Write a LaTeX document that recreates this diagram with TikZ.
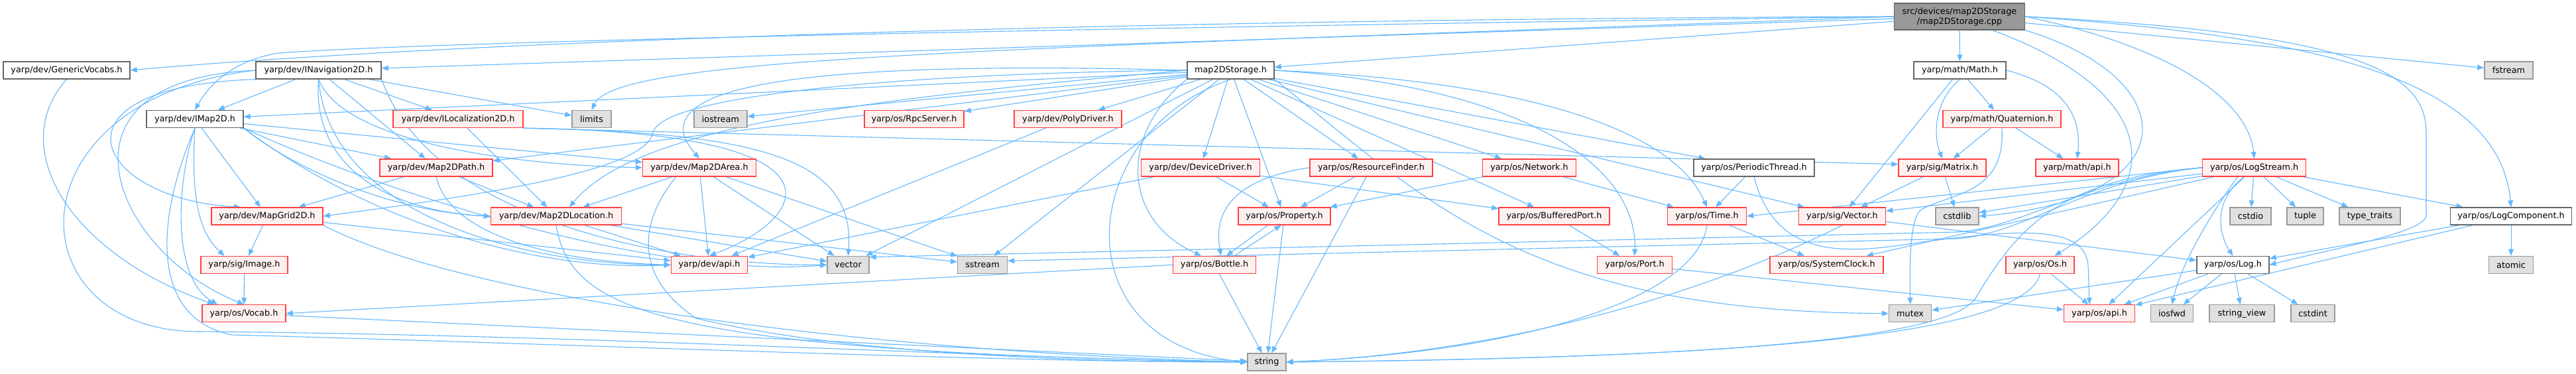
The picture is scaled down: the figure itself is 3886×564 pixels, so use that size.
\documentclass[tikz,border=0pt]{standalone}
\usepackage{fontspec}
\setmainfont{DejaVu Sans}
\usetikzlibrary{arrows.meta,backgrounds}
\definecolor{ecol}{RGB}{99,184,255}
\definecolor{ngray}{HTML}{666666}
\definecolor{nred}{HTML}{FF4040}
\definecolor{npink}{HTML}{FFF0F0}
\definecolor{egray}{HTML}{999999}
\definecolor{efill}{HTML}{E0E0E0}
\definecolor{rfill}{HTML}{999999}
\tikzset{
  nd/.style={draw, line width=1.4pt, minimum height=26pt, inner xsep=0pt, inner ysep=0pt,
    font=\fontsize{12.8}{15}\selectfont, text=black},
  wn/.style={nd, draw=ngray, fill=white},
  rn/.style={nd, draw=nred, fill=npink},
  gn/.style={nd, draw=egray, fill=efill},
  rootn/.style={nd, draw=ngray, fill=rfill, minimum height=40pt, align=center},
  lnk/.style={draw=ecol, line width=1.1pt, -{Triangle[length=10pt,width=8pt]}},
}
\begin{document}
\begin{tikzpicture}[x=1pt,y=-1pt]
\useasboundingbox (0,0) rectangle (3886,564);
% row 1
\node[rootn, minimum width=197pt] (root) at (2956,25) {src/devices/map2DStorage\\/map2DStorage.cpp};
% row 2
\node[wn, minimum width=191pt] (gv) at (100.5,106) {yarp/dev/GenericVocabs.h};
\node[wn, minimum width=189pt] (inav) at (480.5,106) {yarp/dev/INavigation2D.h};
\node[wn, minimum width=131pt] (m2s) at (1856.5,106) {map2DStorage.h};
\node[wn, minimum width=139pt] (math) at (2956.5,106) {yarp/math/Math.h};
\node[gn, minimum width=73pt] (fstream) at (3784.4,106) {fstream};
% row 3
\node[wn, minimum width=146pt] (imap) at (294,179.5) {yarp/dev/IMap2D.h};
\node[rn, minimum width=196pt] (iloc) at (691,179.5) {yarp/dev/ILocalization2D.h};
\node[gn, minimum width=59pt] (limits) at (892.5,179.5) {limits};
\node[gn, minimum width=80pt] (iostream) at (1087,179.5) {iostream};
\node[rn, minimum width=150pt] (rpc) at (1379,179.5) {yarp/os/RpcServer.h};
\node[rn, minimum width=162pt] (poly) at (1611,179.5) {yarp/dev/PolyDriver.h};
\node[rn, minimum width=178pt] (quat) at (3020,179.5) {yarp/math/Quaternion.h};
% row 4
\node[rn, minimum width=170pt] (path) at (658,252.8) {yarp/dev/Map2DPath.h};
\node[rn, minimum width=171pt] (area) at (1055,252.8) {yarp/dev/Map2DArea.h};
\node[rn, minimum width=179pt] (devdrv) at (1811,252.8) {yarp/dev/DeviceDriver.h};
\node[rn, minimum width=185pt] (rf) at (2068.5,252.8) {yarp/os/ResourceFinder.h};
\node[rn, minimum width=141pt] (net) at (2307,252.8) {yarp/os/Network.h};
\node[wn, minimum width=182pt] (pthread) at (2646,252.8) {yarp/os/PeriodicThread.h};
\node[rn, minimum width=132pt] (matrix) at (2930,252.8) {yarp/sig/Matrix.h};
\node[rn, minimum width=125pt] (mapi) at (3133.5,252.8) {yarp/math/api.h};
\node[rn, minimum width=156pt] (logstream) at (3400.6,252.8) {yarp/os/LogStream.h};
% row 5
\node[rn, minimum width=168pt] (grid) at (403,326) {yarp/dev/MapGrid2D.h};
\node[rn, minimum width=197pt] (loc) at (839,326) {yarp/dev/Map2DLocation.h};
\node[rn, minimum width=139pt] (prop) at (1937.5,326) {yarp/os/Property.h};
\node[rn, minimum width=167pt] (bport) at (2344.5,326) {yarp/os/BufferedPort.h};
\node[rn, minimum width=119pt] (time) at (2575,326) {yarp/os/Time.h};
\node[rn, minimum width=131pt] (vec) at (2779,326) {yarp/sig/Vector.h};
\node[gn, minimum width=65pt] (cstdlib) at (2952.5,326) {cstdlib};
\node[gn, minimum width=62pt] (cstdio) at (3395,326) {cstdio};
\node[gn, minimum width=55pt] (tuple) at (3477.5,326) {tuple};
\node[gn, minimum width=92pt] (ttraits) at (3575,326) {type\_traits};
\node[wn, minimum width=183pt] (logcomp) at (3788,326) {yarp/os/LogComponent.h};
% row 6
\node[rn, minimum width=131pt] (image) at (368.5,399.4) {yarp/sig/Image.h};
\node[rn, minimum width=115pt] (devapi) at (1070,399.4) {yarp/dev/api.h};
\node[gn, minimum width=63pt] (vector) at (1279.5,399.4) {vector};
\node[gn, minimum width=75pt] (sstream) at (1482,399.4) {sstream};
\node[rn, minimum width=125pt] (bottle) at (1832,399.4) {yarp/os/Bottle.h};
\node[rn, minimum width=113pt] (port) at (2466,399.4) {yarp/os/Port.h};
\node[rn, minimum width=171pt] (sysclock) at (2755.5,399.4) {yarp/os/SystemClock.h};
\node[rn, minimum width=103pt] (os) at (3077.5,399.4) {yarp/os/Os.h};
\node[wn, minimum width=109pt] (log) at (3368.4,399.4) {yarp/os/Log.h};
\node[gn, minimum width=67pt] (atomic) at (3788,399.4) {atomic};
% row 7
\node[rn, minimum width=126pt] (vocab) at (368,472.7) {yarp/os/Vocab.h};
\node[gn, minimum width=64pt] (mutex) at (2881.6,472.7) {mutex};
\node[rn, minimum width=107pt] (osapi) at (3167,472.7) {yarp/os/api.h};
\node[gn, minimum width=64pt] (iosfwd) at (3276.5,472.7) {iosfwd};
\node[gn, minimum width=98pt] (strview) at (3382,472.7) {string\_view};
\node[gn, minimum width=66pt] (cstdint) at (3489,472.7) {cstdint};
% row 8
\node[gn, minimum width=58pt] (string) at (1911,546) {string};

\begin{scope}[on background layer]
\fill[white] (0,0) rectangle (3886,564);
% root
\draw[lnk] (root.west) .. controls (1500,30) and (600,70) .. (gv.east);
\draw[lnk] (root) -- (inav);
\draw[lnk] (root.west) .. controls (1800,40) and (700,60) .. (420,80) .. controls (360,90) and (320,120) .. (imap.north);
\draw[lnk] (root.west) .. controls (1500,75) and (930,85) .. (limits.north);
\draw[lnk] (root) -- (m2s);
\draw[lnk] (root) -- (math);
\draw[lnk] (root) -- (fstream);
\draw[lnk] (root.east) .. controls (3500,55) and (3770,120) .. (logcomp.north);
\draw[lnk] (root.east) .. controls (3560,50) and (3660,110) .. (3660,200) -- (3660,325) .. controls (3660,350) and (3520,375) .. (log.east);
\draw[lnk] (root.east) .. controls (3250,65) and (3390,140) .. (logstream.north);
\draw[lnk] (root.south east) .. controls (3300,120) and (3300,300) .. (cstdlib.east);
\draw[lnk] ([xshift=50pt]root.south) .. controls (3260,140) and (3270,280) .. ([xshift=22pt]os.north);
% map2DStorage.h
\draw[lnk] (m2s) -- (imap);
\draw[lnk] (m2s) -- (path);
\draw[lnk] (m2s.west) .. controls (1200,90) and (960,130) .. (area.north);
\draw[lnk] (m2s.west) .. controls (1300,150) and (960,190) .. ([xshift=20pt]loc.north);
\draw[lnk] (m2s.west) .. controls (1400,110) and (1000,140) .. (985,200) .. controls (975,250) and (800,285) .. (grid.east);
\draw[lnk] (m2s) -- (iostream);
\draw[lnk] (m2s) -- (rpc);
\draw[lnk] (m2s) -- (poly);
\draw[lnk] (m2s) -- (devdrv);
\draw[lnk] (m2s) -- (rf);
\draw[lnk] (m2s) -- (net);
\draw[lnk] (m2s) -- (bport);
\draw[lnk] (m2s.east) .. controls (2300,130) and (2470,250) .. (port.north);
\draw[lnk] (m2s.east) .. controls (2350,125) and (2530,210) .. (time.north);
\draw[lnk] (m2s) -- (pthread);
\draw[lnk] (m2s) -- (vec);
\draw[lnk] (m2s) -- (prop);
\draw[lnk] (m2s.south west) .. controls (1690,200) and (1690,330) .. ([xshift=-20pt]bottle.north);
\draw[lnk] (m2s) -- (sstream);
\draw[lnk] (m2s) -- (vector);
\draw[lnk] (m2s.south) .. controls (1620,200) and (1600,520) .. (string.west);
\draw[lnk] (m2s.south east) .. controls (2150,300) and (2300,470) .. (mutex.west);
% INavigation2D
\draw[lnk] (inav) -- (imap);
\draw[lnk] (inav) -- (iloc);
\draw[lnk] (inav) -- (limits);
\draw[lnk] (inav) -- (path);
\draw[lnk] (inav.south) .. controls (520,220) and (800,250) .. (area.west);
\draw[lnk] (inav.south west) .. controls (60,130) and (140,300) .. ([xshift=-40pt]grid.north);
\draw[lnk] (inav.south) .. controls (470,260) and (600,320) .. (loc.west);
\draw[lnk] (inav.south) .. controls (500,330) and (800,400) .. (devapi.west);
\draw[lnk] (inav.south east) .. controls (650,330) and (1000,400) .. (vector.west);
\draw[lnk] (inav.west) .. controls (60,120) and (170,380) .. (vocab.north);
\draw[lnk] (inav.west) .. controls (10,150) and (20,500) .. (300,500) .. controls (900,505) and (1500,540) .. (string.west);
% IMap2D
\draw[lnk] (imap.south) .. controls (265,280) and (260,420) .. ([xshift=-40pt]vocab.north);
\draw[lnk] (imap.south) .. controls (288,300) and (300,350) .. ([xshift=-30pt]image.north);
\draw[lnk] (imap) -- (grid);
\draw[lnk] (imap) -- (path);
\draw[lnk] (imap) -- (area);
\draw[lnk] (imap.south east) .. controls (450,260) and (600,320) .. (loc.west);
\draw[lnk] (imap.south east) .. controls (550,330) and (800,410) .. (devapi.west);
\draw[lnk] (imap.south east) .. controls (600,300) and (1000,420) .. (vector.west);
\draw[lnk] (imap.south) .. controls (235,330) and (225,480) .. (350,505) .. controls (900,520) and (1500,546) .. (string.west);
% GenericVocabs
\draw[lnk] (gv.south) .. controls (10,220) and (100,380) .. ([xshift=-45pt]vocab.north);
% ILocalization2D
\draw[lnk] (iloc) -- (loc);
\draw[lnk] (iloc.south east) .. controls (1300,200) and (1220,330) .. (devapi.north);
\draw[lnk] (iloc.south east) -- ([yshift=5pt]matrix.west);
\draw[lnk] (iloc.south east) .. controls (1150,200) and (1290,240) .. (vector.north);
% Map2DPath
\draw[lnk] (path) -- (loc);
\draw[lnk] (path) -- (grid);
\draw[lnk] (path.south) .. controls (680,360) and (850,395) .. (devapi.west);
% Map2DArea
\draw[lnk] (area) -- (loc);
\draw[lnk] (area) -- (devapi);
\draw[lnk] (area) -- (vector);
\draw[lnk] (area) -- (sstream);
\draw[lnk] ([xshift=-35pt]area.south) .. controls (960,340) and (960,420) .. (1050,480) .. controls (1300,540) and (1700,546) .. (string.west);
% Map2DLocation
\draw[lnk] (loc) -- (devapi);
\draw[lnk] (loc) -- (sstream);
\draw[lnk] (loc) -- (vector);
\draw[lnk] (loc.south) .. controls (860,470) and (1000,530) .. (string.west);
% MapGrid2D
\draw[lnk] (grid) -- (image);
\draw[lnk] (grid) -- (devapi);
\draw[lnk] (grid.south east) .. controls (700,450) and (1300,530) .. (string.west);
% Image, Vocab
\draw[lnk] (image) -- (vocab);
\draw[lnk] (vocab) -- (string);
% drivers
\draw[lnk] (poly) -- (devapi);
\draw[lnk] (devdrv) -- (devapi);
\draw[lnk] (devdrv) -- (prop);
\draw[lnk] (devdrv) -- (bport);
% ResourceFinder, Network
\draw[lnk] (rf) -- (prop);
\draw[lnk] (rf) -- (string);
\draw[lnk] (rf.west) .. controls (1860,270) and (1830,320) .. ([xshift=10pt]bottle.north);
\draw[lnk] (net) -- (prop);
\draw[lnk] (net) -- (time);
% ports
\draw[lnk] (bport) -- (port);
\draw[lnk] (port) -- (osapi);
% Property, Bottle
\draw[lnk] ([xshift=-25pt]prop.south) -- ([xshift=18pt]bottle.north);
\draw[lnk] ([xshift=30pt]bottle.north) -- ([xshift=-5pt]prop.south);
\draw[lnk] (prop) -- (string);
\draw[lnk] (bottle) -- (string);
\draw[lnk] (bottle.west) -- (vocab.east);
% PeriodicThread, Time
\draw[lnk] (pthread) -- (time);
\draw[lnk] (pthread.south) .. controls (2680,400) and (2800,380) .. (2900,365) .. controls (3050,345) and (3145,340) .. (3150,400) -- ([xshift=-15pt]osapi.north);
\draw[lnk] (time) -- (sysclock);
\draw[lnk] (time.south) .. controls (2560,450) and (2300,530) .. (string.east);
% math
\draw[lnk] (math.south) .. controls (2920,150) and (2915,200) .. (matrix.north);
\draw[lnk] (math) -- (vec);
\draw[lnk] (math) -- (quat);
\draw[lnk] (math.east) .. controls (3120,130) and (3140,180) .. (mapi.north);
\draw[lnk] (quat) -- (matrix);
\draw[lnk] (quat) -- (mapi);
\draw[lnk] (quat.south) .. controls (3025,290) and (2950,290) .. (2900,315) .. controls (2880,325) and (2881,400) .. (mutex.north);
\draw[lnk] (matrix) -- (vec);
\draw[lnk] (matrix) -- (cstdlib);
\draw[lnk] (vec) -- (log);
\draw[lnk] (vec.south) .. controls (2600,430) and (2300,530) .. (string.east);
% Os
\draw[lnk] (os) -- (osapi);
\draw[lnk] (os.south) .. controls (3050,520) and (2500,540) .. (string.east);
% Log, LogComponent
\draw[lnk] (log) -- (osapi);
\draw[lnk] (log) -- (iosfwd);
\draw[lnk] (log) -- (strview);
\draw[lnk] (log) -- (cstdint);
\draw[lnk] (log) -- (mutex);
\draw[lnk] (logcomp) -- (log);
\draw[lnk] (logcomp) -- (osapi);
\draw[lnk] (logcomp) -- (atomic);
% LogStream
\draw[lnk] ([xshift=-15pt]logstream.south) .. controls (3340,300) and (3345,350) .. (log.north);
\draw[lnk] (logstream) -- (logcomp);
\draw[lnk] (logstream) -- (cstdio);
\draw[lnk] (logstream) -- (tuple);
\draw[lnk] (logstream) -- (ttraits);
\draw[lnk] ([xshift=-25pt]logstream.south) .. controls (3330,330) and (3290,400) .. (iosfwd.north);
\draw[lnk] (logstream) -- (osapi);
\draw[lnk] (logstream) -- (cstdlib);
\draw[lnk] (logstream.west) -- (time.east);
\draw[lnk] (logstream) -- (vec);
\draw[lnk] (logstream) -- (sysclock);
\draw[lnk] (logstream.west) .. controls (3100,270) and (3040,350) .. (2980,450) .. controls (2940,510) and (2600,540) .. (string.east);
\draw[lnk] (logstream.west) .. controls (3150,270) and (3050,355) .. (2950,360) -- ([yshift=6pt]sstream.east);
\draw[lnk] (logstream.west) .. controls (3150,268) and (3050,345) .. (2950,350) -- (vector.20);
\end{scope}
\end{tikzpicture}
\end{document}
